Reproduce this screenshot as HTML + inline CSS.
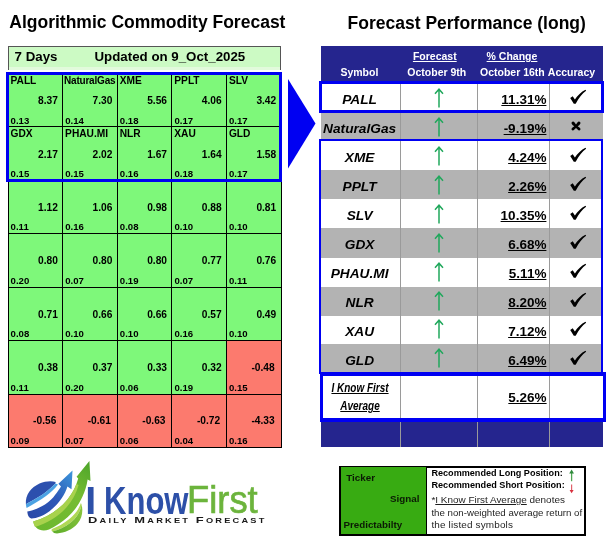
<!DOCTYPE html>
<html><head><meta charset="utf-8"><style>
html,body{margin:0;padding:0;background:#fff;}
#c{position:relative;width:612px;height:545px;overflow:hidden;background:#fff;will-change:transform;}
.t{position:absolute;white-space:nowrap;}
.r{position:absolute;}
u{text-decoration-thickness:1px;text-underline-offset:0.6px;}
</style></head><body><div id="c">
<div class="t" style="left:9.30px;top:13.69px;font-size:17.5px;line-height:17.5px;font-weight:bold;font-style:normal;color:#000;font-family:'Liberation Sans', Arial, sans-serif;">Algorithmic Commodity Forecast</div>
<div class="t" style="left:347.60px;top:14.59px;font-size:17.5px;line-height:17.5px;font-weight:bold;font-style:normal;color:#000;font-family:'Liberation Sans', Arial, sans-serif;">Forecast Performance (long)</div>
<div class="r" style="left:8.00px;top:46.00px;width:273.00px;height:24.00px;background:#CCFAC4;border:1px solid #555;border-bottom:none;box-sizing:border-box;"></div>
<div class="r" style="left:9.00px;top:67.00px;width:271.00px;height:3.00px;background:#E2FADC;"></div>
<div class="t" style="left:14.60px;top:50.04px;font-size:13.3px;line-height:13.3px;font-weight:bold;font-style:normal;color:#000;font-family:'Liberation Sans', Arial, sans-serif;">7 Days</div>
<div class="t" style="left:94.50px;top:50.04px;font-size:13.3px;line-height:13.3px;font-weight:bold;font-style:normal;color:#000;font-family:'Liberation Sans', Arial, sans-serif;">Updated on 9_Oct_2025</div>
<div class="r" style="left:8.00px;top:73.00px;width:54.61px;height:53.51px;background:#7EF87A;"></div>
<div class="r" style="left:62.60px;top:73.00px;width:54.61px;height:53.51px;background:#7EF87A;"></div>
<div class="r" style="left:117.20px;top:73.00px;width:54.61px;height:53.51px;background:#7EF87A;"></div>
<div class="r" style="left:171.80px;top:73.00px;width:54.61px;height:53.51px;background:#7EF87A;"></div>
<div class="r" style="left:226.40px;top:73.00px;width:54.61px;height:53.51px;background:#7EF87A;"></div>
<div class="r" style="left:8.00px;top:126.50px;width:54.61px;height:53.51px;background:#7EF87A;"></div>
<div class="r" style="left:62.60px;top:126.50px;width:54.61px;height:53.51px;background:#7EF87A;"></div>
<div class="r" style="left:117.20px;top:126.50px;width:54.61px;height:53.51px;background:#7EF87A;"></div>
<div class="r" style="left:171.80px;top:126.50px;width:54.61px;height:53.51px;background:#7EF87A;"></div>
<div class="r" style="left:226.40px;top:126.50px;width:54.61px;height:53.51px;background:#7EF87A;"></div>
<div class="r" style="left:8.00px;top:180.00px;width:54.61px;height:53.51px;background:#7EF87A;"></div>
<div class="r" style="left:62.60px;top:180.00px;width:54.61px;height:53.51px;background:#7EF87A;"></div>
<div class="r" style="left:117.20px;top:180.00px;width:54.61px;height:53.51px;background:#7EF87A;"></div>
<div class="r" style="left:171.80px;top:180.00px;width:54.61px;height:53.51px;background:#7EF87A;"></div>
<div class="r" style="left:226.40px;top:180.00px;width:54.61px;height:53.51px;background:#7EF87A;"></div>
<div class="r" style="left:8.00px;top:233.50px;width:54.61px;height:53.51px;background:#7EF87A;"></div>
<div class="r" style="left:62.60px;top:233.50px;width:54.61px;height:53.51px;background:#7EF87A;"></div>
<div class="r" style="left:117.20px;top:233.50px;width:54.61px;height:53.51px;background:#7EF87A;"></div>
<div class="r" style="left:171.80px;top:233.50px;width:54.61px;height:53.51px;background:#7EF87A;"></div>
<div class="r" style="left:226.40px;top:233.50px;width:54.61px;height:53.51px;background:#7EF87A;"></div>
<div class="r" style="left:8.00px;top:287.00px;width:54.61px;height:53.51px;background:#7EF87A;"></div>
<div class="r" style="left:62.60px;top:287.00px;width:54.61px;height:53.51px;background:#7EF87A;"></div>
<div class="r" style="left:117.20px;top:287.00px;width:54.61px;height:53.51px;background:#7EF87A;"></div>
<div class="r" style="left:171.80px;top:287.00px;width:54.61px;height:53.51px;background:#7EF87A;"></div>
<div class="r" style="left:226.40px;top:287.00px;width:54.61px;height:53.51px;background:#7EF87A;"></div>
<div class="r" style="left:8.00px;top:340.50px;width:54.61px;height:53.51px;background:#7EF87A;"></div>
<div class="r" style="left:62.60px;top:340.50px;width:54.61px;height:53.51px;background:#7EF87A;"></div>
<div class="r" style="left:117.20px;top:340.50px;width:54.61px;height:53.51px;background:#7EF87A;"></div>
<div class="r" style="left:171.80px;top:340.50px;width:54.61px;height:53.51px;background:#7EF87A;"></div>
<div class="r" style="left:226.40px;top:340.50px;width:54.61px;height:53.51px;background:#FC7A6E;"></div>
<div class="r" style="left:8.00px;top:394.00px;width:54.61px;height:53.51px;background:#FC7A6E;"></div>
<div class="r" style="left:62.60px;top:394.00px;width:54.61px;height:53.51px;background:#FC7A6E;"></div>
<div class="r" style="left:117.20px;top:394.00px;width:54.61px;height:53.51px;background:#FC7A6E;"></div>
<div class="r" style="left:171.80px;top:394.00px;width:54.61px;height:53.51px;background:#FC7A6E;"></div>
<div class="r" style="left:226.40px;top:394.00px;width:54.61px;height:53.51px;background:#FC7A6E;"></div>
<div class="r" style="left:7.50px;top:73.00px;width:1.00px;height:375.00px;background:#000;"></div>
<div class="r" style="left:62.10px;top:73.00px;width:1.00px;height:375.00px;background:#000;"></div>
<div class="r" style="left:116.70px;top:73.00px;width:1.00px;height:375.00px;background:#000;"></div>
<div class="r" style="left:171.30px;top:73.00px;width:1.00px;height:375.00px;background:#000;"></div>
<div class="r" style="left:225.90px;top:73.00px;width:1.00px;height:375.00px;background:#000;"></div>
<div class="r" style="left:280.50px;top:73.00px;width:1.00px;height:375.00px;background:#000;"></div>
<div class="r" style="left:8.00px;top:72.50px;width:273.50px;height:1.00px;background:#000;"></div>
<div class="r" style="left:8.00px;top:126.00px;width:273.50px;height:1.00px;background:#000;"></div>
<div class="r" style="left:8.00px;top:179.50px;width:273.50px;height:1.00px;background:#000;"></div>
<div class="r" style="left:8.00px;top:233.00px;width:273.50px;height:1.00px;background:#000;"></div>
<div class="r" style="left:8.00px;top:286.50px;width:273.50px;height:1.00px;background:#000;"></div>
<div class="r" style="left:8.00px;top:340.00px;width:273.50px;height:1.00px;background:#000;"></div>
<div class="r" style="left:8.00px;top:393.50px;width:273.50px;height:1.00px;background:#000;"></div>
<div class="r" style="left:8.00px;top:447.00px;width:273.50px;height:1.00px;background:#000;"></div>
<div class="t" style="left:10.50px;top:75.97px;font-size:10.2px;line-height:10.2px;font-weight:bold;font-style:normal;color:#000;font-family:'Liberation Sans', Arial, sans-serif;">PALL</div>
<div class="t" style="right:554.20px;top:96.37px;font-size:10.2px;line-height:10.2px;font-weight:bold;font-style:normal;color:#000;font-family:'Liberation Sans', Arial, sans-serif;">8.37</div>
<div class="t" style="left:10.60px;top:115.77px;font-size:9.6px;line-height:9.6px;font-weight:bold;font-style:normal;color:#000;font-family:'Liberation Sans', Arial, sans-serif;">0.13</div>
<div class="t" style="left:64.00px;top:76.13px;font-size:10px;line-height:10px;font-weight:bold;font-style:normal;color:#000;font-family:'Liberation Sans', Arial, sans-serif;letter-spacing:-0.2px;">NaturalGas</div>
<div class="t" style="right:499.60px;top:96.37px;font-size:10.2px;line-height:10.2px;font-weight:bold;font-style:normal;color:#000;font-family:'Liberation Sans', Arial, sans-serif;">7.30</div>
<div class="t" style="left:65.20px;top:115.77px;font-size:9.6px;line-height:9.6px;font-weight:bold;font-style:normal;color:#000;font-family:'Liberation Sans', Arial, sans-serif;">0.14</div>
<div class="t" style="left:119.70px;top:75.97px;font-size:10.2px;line-height:10.2px;font-weight:bold;font-style:normal;color:#000;font-family:'Liberation Sans', Arial, sans-serif;">XME</div>
<div class="t" style="right:445.00px;top:96.37px;font-size:10.2px;line-height:10.2px;font-weight:bold;font-style:normal;color:#000;font-family:'Liberation Sans', Arial, sans-serif;">5.56</div>
<div class="t" style="left:119.80px;top:115.77px;font-size:9.6px;line-height:9.6px;font-weight:bold;font-style:normal;color:#000;font-family:'Liberation Sans', Arial, sans-serif;">0.18</div>
<div class="t" style="left:174.30px;top:75.97px;font-size:10.2px;line-height:10.2px;font-weight:bold;font-style:normal;color:#000;font-family:'Liberation Sans', Arial, sans-serif;">PPLT</div>
<div class="t" style="right:390.40px;top:96.37px;font-size:10.2px;line-height:10.2px;font-weight:bold;font-style:normal;color:#000;font-family:'Liberation Sans', Arial, sans-serif;">4.06</div>
<div class="t" style="left:174.40px;top:115.77px;font-size:9.6px;line-height:9.6px;font-weight:bold;font-style:normal;color:#000;font-family:'Liberation Sans', Arial, sans-serif;">0.17</div>
<div class="t" style="left:228.90px;top:75.97px;font-size:10.2px;line-height:10.2px;font-weight:bold;font-style:normal;color:#000;font-family:'Liberation Sans', Arial, sans-serif;">SLV</div>
<div class="t" style="right:335.80px;top:96.37px;font-size:10.2px;line-height:10.2px;font-weight:bold;font-style:normal;color:#000;font-family:'Liberation Sans', Arial, sans-serif;">3.42</div>
<div class="t" style="left:229.00px;top:115.77px;font-size:9.6px;line-height:9.6px;font-weight:bold;font-style:normal;color:#000;font-family:'Liberation Sans', Arial, sans-serif;">0.17</div>
<div class="t" style="left:10.50px;top:129.32px;font-size:10.2px;line-height:10.2px;font-weight:bold;font-style:normal;color:#000;font-family:'Liberation Sans', Arial, sans-serif;">GDX</div>
<div class="t" style="right:554.20px;top:149.72px;font-size:10.2px;line-height:10.2px;font-weight:bold;font-style:normal;color:#000;font-family:'Liberation Sans', Arial, sans-serif;">2.17</div>
<div class="t" style="left:10.60px;top:169.12px;font-size:9.6px;line-height:9.6px;font-weight:bold;font-style:normal;color:#000;font-family:'Liberation Sans', Arial, sans-serif;">0.15</div>
<div class="t" style="left:65.10px;top:129.32px;font-size:10.2px;line-height:10.2px;font-weight:bold;font-style:normal;color:#000;font-family:'Liberation Sans', Arial, sans-serif;">PHAU.MI</div>
<div class="t" style="right:499.60px;top:149.72px;font-size:10.2px;line-height:10.2px;font-weight:bold;font-style:normal;color:#000;font-family:'Liberation Sans', Arial, sans-serif;">2.02</div>
<div class="t" style="left:65.20px;top:169.12px;font-size:9.6px;line-height:9.6px;font-weight:bold;font-style:normal;color:#000;font-family:'Liberation Sans', Arial, sans-serif;">0.15</div>
<div class="t" style="left:119.70px;top:129.32px;font-size:10.2px;line-height:10.2px;font-weight:bold;font-style:normal;color:#000;font-family:'Liberation Sans', Arial, sans-serif;">NLR</div>
<div class="t" style="right:445.00px;top:149.72px;font-size:10.2px;line-height:10.2px;font-weight:bold;font-style:normal;color:#000;font-family:'Liberation Sans', Arial, sans-serif;">1.67</div>
<div class="t" style="left:119.80px;top:169.12px;font-size:9.6px;line-height:9.6px;font-weight:bold;font-style:normal;color:#000;font-family:'Liberation Sans', Arial, sans-serif;">0.16</div>
<div class="t" style="left:174.30px;top:129.32px;font-size:10.2px;line-height:10.2px;font-weight:bold;font-style:normal;color:#000;font-family:'Liberation Sans', Arial, sans-serif;">XAU</div>
<div class="t" style="right:390.40px;top:149.72px;font-size:10.2px;line-height:10.2px;font-weight:bold;font-style:normal;color:#000;font-family:'Liberation Sans', Arial, sans-serif;">1.64</div>
<div class="t" style="left:174.40px;top:169.12px;font-size:9.6px;line-height:9.6px;font-weight:bold;font-style:normal;color:#000;font-family:'Liberation Sans', Arial, sans-serif;">0.18</div>
<div class="t" style="left:228.90px;top:129.32px;font-size:10.2px;line-height:10.2px;font-weight:bold;font-style:normal;color:#000;font-family:'Liberation Sans', Arial, sans-serif;">GLD</div>
<div class="t" style="right:335.80px;top:149.72px;font-size:10.2px;line-height:10.2px;font-weight:bold;font-style:normal;color:#000;font-family:'Liberation Sans', Arial, sans-serif;">1.58</div>
<div class="t" style="left:229.00px;top:169.12px;font-size:9.6px;line-height:9.6px;font-weight:bold;font-style:normal;color:#000;font-family:'Liberation Sans', Arial, sans-serif;">0.17</div>
<div class="t" style="right:554.20px;top:203.07px;font-size:10.2px;line-height:10.2px;font-weight:bold;font-style:normal;color:#000;font-family:'Liberation Sans', Arial, sans-serif;">1.12</div>
<div class="t" style="left:10.60px;top:222.47px;font-size:9.6px;line-height:9.6px;font-weight:bold;font-style:normal;color:#000;font-family:'Liberation Sans', Arial, sans-serif;">0.11</div>
<div class="t" style="right:499.60px;top:203.07px;font-size:10.2px;line-height:10.2px;font-weight:bold;font-style:normal;color:#000;font-family:'Liberation Sans', Arial, sans-serif;">1.06</div>
<div class="t" style="left:65.20px;top:222.47px;font-size:9.6px;line-height:9.6px;font-weight:bold;font-style:normal;color:#000;font-family:'Liberation Sans', Arial, sans-serif;">0.16</div>
<div class="t" style="right:445.00px;top:203.07px;font-size:10.2px;line-height:10.2px;font-weight:bold;font-style:normal;color:#000;font-family:'Liberation Sans', Arial, sans-serif;">0.98</div>
<div class="t" style="left:119.80px;top:222.47px;font-size:9.6px;line-height:9.6px;font-weight:bold;font-style:normal;color:#000;font-family:'Liberation Sans', Arial, sans-serif;">0.08</div>
<div class="t" style="right:390.40px;top:203.07px;font-size:10.2px;line-height:10.2px;font-weight:bold;font-style:normal;color:#000;font-family:'Liberation Sans', Arial, sans-serif;">0.88</div>
<div class="t" style="left:174.40px;top:222.47px;font-size:9.6px;line-height:9.6px;font-weight:bold;font-style:normal;color:#000;font-family:'Liberation Sans', Arial, sans-serif;">0.10</div>
<div class="t" style="right:335.80px;top:203.07px;font-size:10.2px;line-height:10.2px;font-weight:bold;font-style:normal;color:#000;font-family:'Liberation Sans', Arial, sans-serif;">0.81</div>
<div class="t" style="left:229.00px;top:222.47px;font-size:9.6px;line-height:9.6px;font-weight:bold;font-style:normal;color:#000;font-family:'Liberation Sans', Arial, sans-serif;">0.10</div>
<div class="t" style="right:554.20px;top:256.42px;font-size:10.2px;line-height:10.2px;font-weight:bold;font-style:normal;color:#000;font-family:'Liberation Sans', Arial, sans-serif;">0.80</div>
<div class="t" style="left:10.60px;top:275.82px;font-size:9.6px;line-height:9.6px;font-weight:bold;font-style:normal;color:#000;font-family:'Liberation Sans', Arial, sans-serif;">0.20</div>
<div class="t" style="right:499.60px;top:256.42px;font-size:10.2px;line-height:10.2px;font-weight:bold;font-style:normal;color:#000;font-family:'Liberation Sans', Arial, sans-serif;">0.80</div>
<div class="t" style="left:65.20px;top:275.82px;font-size:9.6px;line-height:9.6px;font-weight:bold;font-style:normal;color:#000;font-family:'Liberation Sans', Arial, sans-serif;">0.07</div>
<div class="t" style="right:445.00px;top:256.42px;font-size:10.2px;line-height:10.2px;font-weight:bold;font-style:normal;color:#000;font-family:'Liberation Sans', Arial, sans-serif;">0.80</div>
<div class="t" style="left:119.80px;top:275.82px;font-size:9.6px;line-height:9.6px;font-weight:bold;font-style:normal;color:#000;font-family:'Liberation Sans', Arial, sans-serif;">0.19</div>
<div class="t" style="right:390.40px;top:256.42px;font-size:10.2px;line-height:10.2px;font-weight:bold;font-style:normal;color:#000;font-family:'Liberation Sans', Arial, sans-serif;">0.77</div>
<div class="t" style="left:174.40px;top:275.82px;font-size:9.6px;line-height:9.6px;font-weight:bold;font-style:normal;color:#000;font-family:'Liberation Sans', Arial, sans-serif;">0.07</div>
<div class="t" style="right:335.80px;top:256.42px;font-size:10.2px;line-height:10.2px;font-weight:bold;font-style:normal;color:#000;font-family:'Liberation Sans', Arial, sans-serif;">0.76</div>
<div class="t" style="left:229.00px;top:275.82px;font-size:9.6px;line-height:9.6px;font-weight:bold;font-style:normal;color:#000;font-family:'Liberation Sans', Arial, sans-serif;">0.11</div>
<div class="t" style="right:554.20px;top:309.77px;font-size:10.2px;line-height:10.2px;font-weight:bold;font-style:normal;color:#000;font-family:'Liberation Sans', Arial, sans-serif;">0.71</div>
<div class="t" style="left:10.60px;top:329.17px;font-size:9.6px;line-height:9.6px;font-weight:bold;font-style:normal;color:#000;font-family:'Liberation Sans', Arial, sans-serif;">0.08</div>
<div class="t" style="right:499.60px;top:309.77px;font-size:10.2px;line-height:10.2px;font-weight:bold;font-style:normal;color:#000;font-family:'Liberation Sans', Arial, sans-serif;">0.66</div>
<div class="t" style="left:65.20px;top:329.17px;font-size:9.6px;line-height:9.6px;font-weight:bold;font-style:normal;color:#000;font-family:'Liberation Sans', Arial, sans-serif;">0.10</div>
<div class="t" style="right:445.00px;top:309.77px;font-size:10.2px;line-height:10.2px;font-weight:bold;font-style:normal;color:#000;font-family:'Liberation Sans', Arial, sans-serif;">0.66</div>
<div class="t" style="left:119.80px;top:329.17px;font-size:9.6px;line-height:9.6px;font-weight:bold;font-style:normal;color:#000;font-family:'Liberation Sans', Arial, sans-serif;">0.10</div>
<div class="t" style="right:390.40px;top:309.77px;font-size:10.2px;line-height:10.2px;font-weight:bold;font-style:normal;color:#000;font-family:'Liberation Sans', Arial, sans-serif;">0.57</div>
<div class="t" style="left:174.40px;top:329.17px;font-size:9.6px;line-height:9.6px;font-weight:bold;font-style:normal;color:#000;font-family:'Liberation Sans', Arial, sans-serif;">0.16</div>
<div class="t" style="right:335.80px;top:309.77px;font-size:10.2px;line-height:10.2px;font-weight:bold;font-style:normal;color:#000;font-family:'Liberation Sans', Arial, sans-serif;">0.49</div>
<div class="t" style="left:229.00px;top:329.17px;font-size:9.6px;line-height:9.6px;font-weight:bold;font-style:normal;color:#000;font-family:'Liberation Sans', Arial, sans-serif;">0.10</div>
<div class="t" style="right:554.20px;top:363.12px;font-size:10.2px;line-height:10.2px;font-weight:bold;font-style:normal;color:#000;font-family:'Liberation Sans', Arial, sans-serif;">0.38</div>
<div class="t" style="left:10.60px;top:382.52px;font-size:9.6px;line-height:9.6px;font-weight:bold;font-style:normal;color:#000;font-family:'Liberation Sans', Arial, sans-serif;">0.11</div>
<div class="t" style="right:499.60px;top:363.12px;font-size:10.2px;line-height:10.2px;font-weight:bold;font-style:normal;color:#000;font-family:'Liberation Sans', Arial, sans-serif;">0.37</div>
<div class="t" style="left:65.20px;top:382.52px;font-size:9.6px;line-height:9.6px;font-weight:bold;font-style:normal;color:#000;font-family:'Liberation Sans', Arial, sans-serif;">0.20</div>
<div class="t" style="right:445.00px;top:363.12px;font-size:10.2px;line-height:10.2px;font-weight:bold;font-style:normal;color:#000;font-family:'Liberation Sans', Arial, sans-serif;">0.33</div>
<div class="t" style="left:119.80px;top:382.52px;font-size:9.6px;line-height:9.6px;font-weight:bold;font-style:normal;color:#000;font-family:'Liberation Sans', Arial, sans-serif;">0.06</div>
<div class="t" style="right:390.40px;top:363.12px;font-size:10.2px;line-height:10.2px;font-weight:bold;font-style:normal;color:#000;font-family:'Liberation Sans', Arial, sans-serif;">0.32</div>
<div class="t" style="left:174.40px;top:382.52px;font-size:9.6px;line-height:9.6px;font-weight:bold;font-style:normal;color:#000;font-family:'Liberation Sans', Arial, sans-serif;">0.19</div>
<div class="t" style="right:337.30px;top:363.12px;font-size:10.2px;line-height:10.2px;font-weight:bold;font-style:normal;color:#000;font-family:'Liberation Sans', Arial, sans-serif;">-0.48</div>
<div class="t" style="left:229.00px;top:382.52px;font-size:9.6px;line-height:9.6px;font-weight:bold;font-style:normal;color:#000;font-family:'Liberation Sans', Arial, sans-serif;">0.15</div>
<div class="t" style="right:555.70px;top:416.47px;font-size:10.2px;line-height:10.2px;font-weight:bold;font-style:normal;color:#000;font-family:'Liberation Sans', Arial, sans-serif;">-0.56</div>
<div class="t" style="left:10.60px;top:435.87px;font-size:9.6px;line-height:9.6px;font-weight:bold;font-style:normal;color:#000;font-family:'Liberation Sans', Arial, sans-serif;">0.09</div>
<div class="t" style="right:501.10px;top:416.47px;font-size:10.2px;line-height:10.2px;font-weight:bold;font-style:normal;color:#000;font-family:'Liberation Sans', Arial, sans-serif;">-0.61</div>
<div class="t" style="left:65.20px;top:435.87px;font-size:9.6px;line-height:9.6px;font-weight:bold;font-style:normal;color:#000;font-family:'Liberation Sans', Arial, sans-serif;">0.07</div>
<div class="t" style="right:446.50px;top:416.47px;font-size:10.2px;line-height:10.2px;font-weight:bold;font-style:normal;color:#000;font-family:'Liberation Sans', Arial, sans-serif;">-0.63</div>
<div class="t" style="left:119.80px;top:435.87px;font-size:9.6px;line-height:9.6px;font-weight:bold;font-style:normal;color:#000;font-family:'Liberation Sans', Arial, sans-serif;">0.06</div>
<div class="t" style="right:391.90px;top:416.47px;font-size:10.2px;line-height:10.2px;font-weight:bold;font-style:normal;color:#000;font-family:'Liberation Sans', Arial, sans-serif;">-0.72</div>
<div class="t" style="left:174.40px;top:435.87px;font-size:9.6px;line-height:9.6px;font-weight:bold;font-style:normal;color:#000;font-family:'Liberation Sans', Arial, sans-serif;">0.04</div>
<div class="t" style="right:337.30px;top:416.47px;font-size:10.2px;line-height:10.2px;font-weight:bold;font-style:normal;color:#000;font-family:'Liberation Sans', Arial, sans-serif;">-4.33</div>
<div class="t" style="left:229.00px;top:435.87px;font-size:9.6px;line-height:9.6px;font-weight:bold;font-style:normal;color:#000;font-family:'Liberation Sans', Arial, sans-serif;">0.16</div>
<div class="r" style="left:6.00px;top:72.00px;width:276.00px;height:110.00px;border:3px solid #0000F2;box-sizing:border-box;"></div>
<svg class="r" style="left:0;top:0" width="612" height="545"><polygon points="288,79 315.5,123.5 288,168.5" fill="#0000F2"/></svg>
<div class="r" style="left:321.00px;top:45.50px;width:282.00px;height:36.35px;background:#25258E;"></div>
<div class="t" style="left:319.40px;width:80px;text-align:center;top:66.71px;font-size:10.5px;line-height:10.5px;font-weight:bold;font-style:normal;color:#fff;font-family:'Liberation Sans', Arial, sans-serif;">Symbol</div>
<div class="t" style="left:394.80px;width:80px;text-align:center;top:50.71px;font-size:10.5px;line-height:10.5px;font-weight:bold;font-style:normal;color:#fff;font-family:'Liberation Sans', Arial, sans-serif;"><u>Forecast</u></div>
<div class="t" style="left:396.80px;width:80px;text-align:center;top:66.71px;font-size:10.5px;line-height:10.5px;font-weight:bold;font-style:normal;color:#fff;font-family:'Liberation Sans', Arial, sans-serif;">October 9th</div>
<div class="t" style="left:472.00px;width:80px;text-align:center;top:50.71px;font-size:10.5px;line-height:10.5px;font-weight:bold;font-style:normal;color:#fff;font-family:'Liberation Sans', Arial, sans-serif;"><u>% Change</u></div>
<div class="t" style="left:472.40px;width:80px;text-align:center;top:66.71px;font-size:10.5px;line-height:10.5px;font-weight:bold;font-style:normal;color:#fff;font-family:'Liberation Sans', Arial, sans-serif;">October 16th</div>
<div class="t" style="left:541.50px;width:60px;text-align:center;top:66.71px;font-size:10.5px;line-height:10.5px;font-weight:bold;font-style:normal;color:#fff;font-family:'Liberation Sans', Arial, sans-serif;">Accuracy</div>
<div class="r" style="left:321.00px;top:81.90px;width:282.00px;height:29.21px;background:#fff;"></div>
<div class="r" style="left:321.00px;top:111.10px;width:282.00px;height:28.81px;background:#B3B3B3;"></div>
<div class="r" style="left:321.00px;top:139.90px;width:282.00px;height:29.81px;background:#fff;"></div>
<div class="r" style="left:321.00px;top:169.70px;width:282.00px;height:29.31px;background:#B3B3B3;"></div>
<div class="r" style="left:321.00px;top:199.00px;width:282.00px;height:29.11px;background:#fff;"></div>
<div class="r" style="left:321.00px;top:228.10px;width:282.00px;height:29.71px;background:#B3B3B3;"></div>
<div class="r" style="left:321.00px;top:257.80px;width:282.00px;height:29.11px;background:#fff;"></div>
<div class="r" style="left:321.00px;top:286.90px;width:282.00px;height:28.71px;background:#B3B3B3;"></div>
<div class="r" style="left:321.00px;top:315.60px;width:282.00px;height:28.61px;background:#fff;"></div>
<div class="r" style="left:321.00px;top:344.20px;width:282.00px;height:29.21px;background:#B3B3B3;"></div>
<div class="r" style="left:321.00px;top:373.40px;width:282.00px;height:46.60px;background:#fff;"></div>
<div class="r" style="left:321.00px;top:420.00px;width:282.00px;height:27.20px;background:#25258E;"></div>
<div class="r" style="left:400.00px;top:81.85px;width:1.00px;height:365.35px;background:#9a9a9a;"></div>
<div class="r" style="left:477.00px;top:81.85px;width:1.00px;height:365.35px;background:#9a9a9a;"></div>
<div class="r" style="left:549.30px;top:81.85px;width:1.00px;height:365.35px;background:#9a9a9a;"></div>
<div class="t" style="left:314.60px;width:90px;text-align:center;top:92.80px;font-size:13.7px;line-height:13.7px;font-weight:bold;font-style:italic;color:#000;font-family:'Liberation Sans', Arial, sans-serif;">PALL</div>
<svg class="r" style="left:432.1px;top:88.1px" width="14" height="20.400000000000006"><path d="M7 19.400000000000006 V1.6 M3.0 5.7 L7 1.2 L11.0 5.7" stroke="#20A85C" stroke-width="1.5" fill="none" stroke-linejoin="miter"/></svg>
<div class="t" style="right:65.60px;top:92.97px;font-size:13.5px;line-height:13.5px;font-weight:bold;font-style:normal;color:#000;font-family:'Liberation Sans', Arial, sans-serif;"><u>11.31%</u></div>
<svg class="r" style="left:569.20px;top:82.20px" width="20" height="26" viewBox="-1 0 20 26"><path d="M0.2 16.0 L2.7 14.3 L4.9 17.4 C7.6 13.3 11.2 9.9 15.5 7.7 L16.1 8.7 C12.4 11.4 8.9 15.6 5.7 21.7 L3.8 21.7 Z" fill="#000"/></svg>
<div class="t" style="left:314.60px;width:90px;text-align:center;top:121.77px;font-size:13.7px;line-height:13.7px;font-weight:bold;font-style:italic;color:#000;font-family:'Liberation Sans', Arial, sans-serif;">NaturalGas</div>
<svg class="r" style="left:432.1px;top:117.02px" width="14" height="20.39999999999999"><path d="M7 19.39999999999999 V1.6 M3.0 5.7 L7 1.2 L11.0 5.7" stroke="#20A85C" stroke-width="1.5" fill="none" stroke-linejoin="miter"/></svg>
<div class="t" style="right:65.60px;top:121.94px;font-size:13.5px;line-height:13.5px;font-weight:bold;font-style:normal;color:#000;font-family:'Liberation Sans', Arial, sans-serif;"><u>-9.19%</u></div>
<svg class="r" style="left:570.1px;top:120.1px" width="12" height="12" viewBox="0 0 12 12"><path d="M1.6 2.6 C2.6 1.2 3.6 1.4 4.6 2.6 L6 4.4 L7.4 2.6 C8.4 1.4 9.4 1.2 10.4 2.6 C10.8 3.4 10 4.4 9.2 5.2 L7.7 6.3 L9.4 7.6 C10.4 8.4 10.8 9.2 10.2 10 C9.4 10.8 8.4 10.4 7.6 9.4 L6 7.9 L4.4 9.4 C3.6 10.4 2.6 10.8 1.8 10 C1.2 9.2 1.6 8.4 2.6 7.6 L4.3 6.3 L2.8 5.2 C2 4.4 1.2 3.4 1.6 2.6 Z" fill="#000"/></svg>
<div class="t" style="left:314.60px;width:90px;text-align:center;top:150.74px;font-size:13.7px;line-height:13.7px;font-weight:bold;font-style:italic;color:#000;font-family:'Liberation Sans', Arial, sans-serif;">XME</div>
<svg class="r" style="left:432.1px;top:145.94px" width="14" height="20.400000000000006"><path d="M7 19.400000000000006 V1.6 M3.0 5.7 L7 1.2 L11.0 5.7" stroke="#20A85C" stroke-width="1.5" fill="none" stroke-linejoin="miter"/></svg>
<div class="t" style="right:65.60px;top:150.91px;font-size:13.5px;line-height:13.5px;font-weight:bold;font-style:normal;color:#000;font-family:'Liberation Sans', Arial, sans-serif;"><u>4.24%</u></div>
<svg class="r" style="left:569.20px;top:140.10px" width="20" height="26" viewBox="-1 0 20 26"><path d="M0.2 16.0 L2.7 14.3 L4.9 17.4 C7.6 13.3 11.2 9.9 15.5 7.7 L16.1 8.7 C12.4 11.4 8.9 15.6 5.7 21.7 L3.8 21.7 Z" fill="#000"/></svg>
<div class="t" style="left:314.60px;width:90px;text-align:center;top:179.71px;font-size:13.7px;line-height:13.7px;font-weight:bold;font-style:italic;color:#000;font-family:'Liberation Sans', Arial, sans-serif;">PPLT</div>
<svg class="r" style="left:432.1px;top:174.86px" width="14" height="20.400000000000006"><path d="M7 19.400000000000006 V1.6 M3.0 5.7 L7 1.2 L11.0 5.7" stroke="#20A85C" stroke-width="1.5" fill="none" stroke-linejoin="miter"/></svg>
<div class="t" style="right:65.60px;top:179.88px;font-size:13.5px;line-height:13.5px;font-weight:bold;font-style:normal;color:#000;font-family:'Liberation Sans', Arial, sans-serif;"><u>2.26%</u></div>
<svg class="r" style="left:569.20px;top:169.05px" width="20" height="26" viewBox="-1 0 20 26"><path d="M0.2 16.0 L2.7 14.3 L4.9 17.4 C7.6 13.3 11.2 9.9 15.5 7.7 L16.1 8.7 C12.4 11.4 8.9 15.6 5.7 21.7 L3.8 21.7 Z" fill="#000"/></svg>
<div class="t" style="left:314.60px;width:90px;text-align:center;top:208.68px;font-size:13.7px;line-height:13.7px;font-weight:bold;font-style:italic;color:#000;font-family:'Liberation Sans', Arial, sans-serif;">SLV</div>
<svg class="r" style="left:432.1px;top:203.78px" width="14" height="20.400000000000006"><path d="M7 19.400000000000006 V1.6 M3.0 5.7 L7 1.2 L11.0 5.7" stroke="#20A85C" stroke-width="1.5" fill="none" stroke-linejoin="miter"/></svg>
<div class="t" style="right:65.60px;top:208.85px;font-size:13.5px;line-height:13.5px;font-weight:bold;font-style:normal;color:#000;font-family:'Liberation Sans', Arial, sans-serif;"><u>10.35%</u></div>
<svg class="r" style="left:569.20px;top:198.00px" width="20" height="26" viewBox="-1 0 20 26"><path d="M0.2 16.0 L2.7 14.3 L4.9 17.4 C7.6 13.3 11.2 9.9 15.5 7.7 L16.1 8.7 C12.4 11.4 8.9 15.6 5.7 21.7 L3.8 21.7 Z" fill="#000"/></svg>
<div class="t" style="left:314.60px;width:90px;text-align:center;top:237.65px;font-size:13.7px;line-height:13.7px;font-weight:bold;font-style:italic;color:#000;font-family:'Liberation Sans', Arial, sans-serif;">GDX</div>
<svg class="r" style="left:432.1px;top:232.70000000000002px" width="14" height="20.400000000000006"><path d="M7 19.400000000000006 V1.6 M3.0 5.7 L7 1.2 L11.0 5.7" stroke="#20A85C" stroke-width="1.5" fill="none" stroke-linejoin="miter"/></svg>
<div class="t" style="right:65.60px;top:237.82px;font-size:13.5px;line-height:13.5px;font-weight:bold;font-style:normal;color:#000;font-family:'Liberation Sans', Arial, sans-serif;"><u>6.68%</u></div>
<svg class="r" style="left:569.20px;top:226.95px" width="20" height="26" viewBox="-1 0 20 26"><path d="M0.2 16.0 L2.7 14.3 L4.9 17.4 C7.6 13.3 11.2 9.9 15.5 7.7 L16.1 8.7 C12.4 11.4 8.9 15.6 5.7 21.7 L3.8 21.7 Z" fill="#000"/></svg>
<div class="t" style="left:314.60px;width:90px;text-align:center;top:266.62px;font-size:13.7px;line-height:13.7px;font-weight:bold;font-style:italic;color:#000;font-family:'Liberation Sans', Arial, sans-serif;">PHAU.MI</div>
<svg class="r" style="left:432.1px;top:261.62px" width="14" height="20.399999999999977"><path d="M7 19.399999999999977 V1.6 M3.0 5.7 L7 1.2 L11.0 5.7" stroke="#20A85C" stroke-width="1.5" fill="none" stroke-linejoin="miter"/></svg>
<div class="t" style="right:65.60px;top:266.79px;font-size:13.5px;line-height:13.5px;font-weight:bold;font-style:normal;color:#000;font-family:'Liberation Sans', Arial, sans-serif;"><u>5.11%</u></div>
<svg class="r" style="left:569.20px;top:255.90px" width="20" height="26" viewBox="-1 0 20 26"><path d="M0.2 16.0 L2.7 14.3 L4.9 17.4 C7.6 13.3 11.2 9.9 15.5 7.7 L16.1 8.7 C12.4 11.4 8.9 15.6 5.7 21.7 L3.8 21.7 Z" fill="#000"/></svg>
<div class="t" style="left:314.60px;width:90px;text-align:center;top:295.59px;font-size:13.7px;line-height:13.7px;font-weight:bold;font-style:italic;color:#000;font-family:'Liberation Sans', Arial, sans-serif;">NLR</div>
<svg class="r" style="left:432.1px;top:290.53999999999996px" width="14" height="20.399999999999977"><path d="M7 19.399999999999977 V1.6 M3.0 5.7 L7 1.2 L11.0 5.7" stroke="#20A85C" stroke-width="1.5" fill="none" stroke-linejoin="miter"/></svg>
<div class="t" style="right:65.60px;top:295.76px;font-size:13.5px;line-height:13.5px;font-weight:bold;font-style:normal;color:#000;font-family:'Liberation Sans', Arial, sans-serif;"><u>8.20%</u></div>
<svg class="r" style="left:569.20px;top:284.85px" width="20" height="26" viewBox="-1 0 20 26"><path d="M0.2 16.0 L2.7 14.3 L4.9 17.4 C7.6 13.3 11.2 9.9 15.5 7.7 L16.1 8.7 C12.4 11.4 8.9 15.6 5.7 21.7 L3.8 21.7 Z" fill="#000"/></svg>
<div class="t" style="left:314.60px;width:90px;text-align:center;top:324.56px;font-size:13.7px;line-height:13.7px;font-weight:bold;font-style:italic;color:#000;font-family:'Liberation Sans', Arial, sans-serif;">XAU</div>
<svg class="r" style="left:432.1px;top:319.46000000000004px" width="14" height="20.399999999999977"><path d="M7 19.399999999999977 V1.6 M3.0 5.7 L7 1.2 L11.0 5.7" stroke="#20A85C" stroke-width="1.5" fill="none" stroke-linejoin="miter"/></svg>
<div class="t" style="right:65.60px;top:324.73px;font-size:13.5px;line-height:13.5px;font-weight:bold;font-style:normal;color:#000;font-family:'Liberation Sans', Arial, sans-serif;"><u>7.12%</u></div>
<svg class="r" style="left:569.20px;top:313.80px" width="20" height="26" viewBox="-1 0 20 26"><path d="M0.2 16.0 L2.7 14.3 L4.9 17.4 C7.6 13.3 11.2 9.9 15.5 7.7 L16.1 8.7 C12.4 11.4 8.9 15.6 5.7 21.7 L3.8 21.7 Z" fill="#000"/></svg>
<div class="t" style="left:314.60px;width:90px;text-align:center;top:353.53px;font-size:13.7px;line-height:13.7px;font-weight:bold;font-style:italic;color:#000;font-family:'Liberation Sans', Arial, sans-serif;">GLD</div>
<svg class="r" style="left:432.1px;top:348.38px" width="14" height="20.399999999999977"><path d="M7 19.399999999999977 V1.6 M3.0 5.7 L7 1.2 L11.0 5.7" stroke="#20A85C" stroke-width="1.5" fill="none" stroke-linejoin="miter"/></svg>
<div class="t" style="right:65.60px;top:353.70px;font-size:13.5px;line-height:13.5px;font-weight:bold;font-style:normal;color:#000;font-family:'Liberation Sans', Arial, sans-serif;"><u>6.49%</u></div>
<svg class="r" style="left:569.20px;top:342.75px" width="20" height="26" viewBox="-1 0 20 26"><path d="M0.2 16.0 L2.7 14.3 L4.9 17.4 C7.6 13.3 11.2 9.9 15.5 7.7 L16.1 8.7 C12.4 11.4 8.9 15.6 5.7 21.7 L3.8 21.7 Z" fill="#000"/></svg>
<div class="t" style="left:299.90px;width:120px;text-align:center;top:380.77px;font-size:13.5px;line-height:13.5px;font-weight:bold;font-style:italic;color:#000;font-family:'Liberation Sans', Arial, sans-serif;transform:scaleX(0.74);"><u>I Know First</u></div>
<div class="t" style="left:299.80px;width:120px;text-align:center;top:399.17px;font-size:13.5px;line-height:13.5px;font-weight:bold;font-style:italic;color:#000;font-family:'Liberation Sans', Arial, sans-serif;transform:scaleX(0.74);"><u>Average</u></div>
<div class="t" style="right:65.40px;top:390.87px;font-size:13.5px;line-height:13.5px;font-weight:bold;font-style:normal;color:#000;font-family:'Liberation Sans', Arial, sans-serif;"><u>5.26%</u></div>
<div class="r" style="left:319.00px;top:81.10px;width:285.00px;height:31.70px;border:3px solid #0000F2;box-sizing:border-box;"></div>
<div class="r" style="left:319.10px;top:139.00px;width:284.30px;height:234.60px;border:2.8px solid #0000F2;box-sizing:border-box;"></div>
<div class="r" style="left:320.00px;top:372.40px;width:285.70px;height:50.00px;border:3.1px solid #0000F2;border-top-width:4.1px;border-bottom-width:4.5px;box-sizing:border-box;"></div>
<div class="r" style="left:339.20px;top:465.60px;width:246.80px;height:70.20px;background:#fff;border:2px solid #000;box-sizing:border-box;"></div>
<div class="r" style="left:341.20px;top:467.30px;width:84.40px;height:66.30px;background:#38AB12;"></div>
<div class="r" style="left:425.60px;top:467.30px;width:1.80px;height:66.30px;background:#000;"></div>
<div class="t" style="left:346.30px;top:473.20px;font-size:9.8px;line-height:9.8px;font-weight:bold;font-style:normal;color:#0b1a05;font-family:'Liberation Sans', Arial, sans-serif;">Ticker</div>
<div class="t" style="right:192.60px;top:494.10px;font-size:9.8px;line-height:9.8px;font-weight:bold;font-style:normal;color:#0b1a05;font-family:'Liberation Sans', Arial, sans-serif;">Signal</div>
<div class="t" style="left:343.40px;top:519.50px;font-size:9.8px;line-height:9.8px;font-weight:bold;font-style:normal;color:#0b1a05;font-family:'Liberation Sans', Arial, sans-serif;">Predictabilty</div>
<div class="t" style="left:431.40px;top:469.10px;font-size:9.1px;line-height:9.1px;font-weight:bold;font-style:normal;color:#000;font-family:'Liberation Sans', Arial, sans-serif;">Recommended Long Position:</div>
<div class="t" style="left:431.40px;top:480.55px;font-size:9.15px;line-height:9.15px;font-weight:bold;font-style:normal;color:#000;font-family:'Liberation Sans', Arial, sans-serif;">Recommended Short Position:</div>
<div class="t" style="left:431.40px;top:494.98px;font-size:9.95px;line-height:9.95px;font-weight:normal;font-style:normal;color:#1e1e1e;font-family:'Liberation Sans', Arial, sans-serif;">*<u>I Know First Average</u> denotes</div>
<div class="t" style="left:431.40px;top:508.49px;font-size:9.7px;line-height:9.7px;font-weight:normal;font-style:normal;color:#1e1e1e;font-family:'Liberation Sans', Arial, sans-serif;letter-spacing:0px;">the non-weighted average return of</div>
<div class="t" style="left:431.40px;top:520.18px;font-size:9.95px;line-height:9.95px;font-weight:normal;font-style:normal;color:#1e1e1e;font-family:'Liberation Sans', Arial, sans-serif;letter-spacing:0.15px;">the listed symbols</div>
<svg class="r" style="left:560px;top:465px" width="20" height="32" viewBox="560 465 20 32"><path d="M571.6 472.4 V481.2" stroke="#4fa552" stroke-width="1.3"/><path d="M571.6 469.6 L569.2 473.4 L574.0 473.4 Z" fill="#2f8a3c"/><path d="M571.6 484.4 V490.6" stroke="#e0606a" stroke-width="1.2"/><path d="M569.6 490.0 L573.6 490.0 L571.6 493.2 Z" fill="#d8303e"/></svg>
<svg class="r" style="left:0;top:440px" width="300" height="105" viewBox="0 440 300 105">
<defs>
<linearGradient id="gB" gradientUnits="userSpaceOnUse" x1="30" y1="515" x2="72" y2="471"><stop offset="0" stop-color="#2a4aa8"/><stop offset="0.5" stop-color="#2d58b8"/><stop offset="0.75" stop-color="#3478c8"/><stop offset="1" stop-color="#3d95dc"/></linearGradient>
<linearGradient id="gG" gradientUnits="userSpaceOnUse" x1="36" y1="528" x2="89" y2="461"><stop offset="0" stop-color="#6cb82e"/><stop offset="0.6" stop-color="#76bc32"/><stop offset="1" stop-color="#4da52a"/></linearGradient>
<linearGradient id="gG2" gradientUnits="userSpaceOnUse" x1="52" y1="532" x2="82" y2="504"><stop offset="0" stop-color="#5fae2a"/><stop offset="1" stop-color="#8cc63e"/></linearGradient>
</defs>
<!-- globe dark cap -->
<path d="M25.9 504.2 C25.2 495 31 487.6 39.5 483.6 C45 481.2 51 480.6 55.6 481.9 L55.4 483.4 C50 489 44 494 37.6 497.6 C33 500.5 29 502.5 25.9 504.2 Z" fill="#2c50ae"/>
<!-- light blue band -->
<path d="M25.9 504.2 C29 502.5 33 500.5 37.6 497.6 C44 494 50 489 55.4 483.4 L58.0 484.6 C54.5 489 51 492.4 46 496 C40 500.4 33 504.4 26.6 507.9 C26.2 506.7 26 505.4 25.9 504.2 Z" fill="#4ba2e3"/>
<!-- lower body + blue arrow -->
<path d="M27.3 511.6 C33 510.4 40 507.6 45 504.4 C50 501.2 53 498 55.2 494.8 C57.4 491.8 59.4 488.8 61.0 486.4 L58.4 483.8 L72.5 470.6 L71.5 489.2 L67.4 486.6 C65 495 58.8 504 49.5 511.2 C43.5 515.8 36 518.6 31.2 518.4 C28.8 518 27.6 515.2 27.3 511.6 Z" fill="url(#gB)"/>
<!-- green leaf 1 (arrow) -->
<path d="M33.2 521.6 C44 518.5 54.5 512.5 63 504.5 C69.5 498 73.8 490.8 76.4 484 L78.2 478.4 L76.6 476.8 L89.4 460.9 L90.5 481.1 L87.6 479.6 C86.8 485.6 85 491.5 82.5 496.6 C79 504.5 74 511.5 67.5 517.2 C62 522 55.5 526.4 49 529.4 C44.5 531.2 39.5 530.6 36.4 527.8 C34.8 526.2 33.7 524.2 33.2 521.6 Z" fill="url(#gG)"/>
<path d="M33.2 521.6 C44 518.5 54.5 512.5 63 504.5 C69.5 498 73.8 490.8 76.4 484 L78.6 485.0 C76.4 493 72.4 500.6 66.4 507.6 C58 516.6 47 523.4 35.0 527.0 C34.1 525.4 33.5 523.6 33.2 521.6 Z" fill="#a8d24c"/>
<!-- green leaf 2 -->
<path d="M52.4 531.4 C59 530 65.5 527 70.8 522.6 C76.5 517.8 80.5 511.5 81.6 504.5 L80.9 503 C78.8 509.5 74.5 515 69 519.3 C63.5 523.6 58 526.8 52 529 C51.2 530 51.5 531 52.4 531.4 Z" fill="#b0d855"/>
<path d="M52.4 531.4 C59 530 65.5 527 70.8 522.6 C76.5 517.8 80.5 511.5 81.6 504.5 C83.2 511 82.2 518 77.6 523.6 C72.5 529.6 64.5 533.2 57 533.4 C54.8 533.4 53.2 532.6 52.4 531.4 Z" fill="url(#gG2)"/>
</svg>
<div class="t" style="left:85.20px;top:480.53px;font-size:39.3px;line-height:39.3px;font-weight:bold;font-style:normal;color:#2d50a8;font-family:'Liberation Sans', Arial, sans-serif;">I</div>
<div class="t" style="left:103.90px;top:480.53px;font-size:39.3px;line-height:39.3px;font-weight:bold;font-style:normal;color:#2d50a8;font-family:'Liberation Sans', Arial, sans-serif;transform:scaleX(0.79);transform-origin:0 0;">Know</div>
<div class="t" style="left:186.50px;top:480.33px;font-size:39.3px;line-height:39.3px;font-weight:normal;font-style:normal;color:#6cb43c;font-family:'Liberation Sans', Arial, sans-serif;transform:scaleX(0.925);transform-origin:0 0;-webkit-text-stroke:0.7px #6cb43c;">First</div>
<div class="t" style="left:88.00px;top:515.90px;font-size:9.1px;line-height:9.1px;font-weight:bold;font-style:normal;color:#1a1a1a;font-family:'Liberation Sans', Arial, sans-serif;letter-spacing:1.55px;transform:scaleX(1.42);transform-origin:0 0;">D<span style="font-size:6.5px">AILY</span> M<span style="font-size:6.5px">ARKET</span> F<span style="font-size:6.5px">ORECAST</span></div>
</div></body></html>
